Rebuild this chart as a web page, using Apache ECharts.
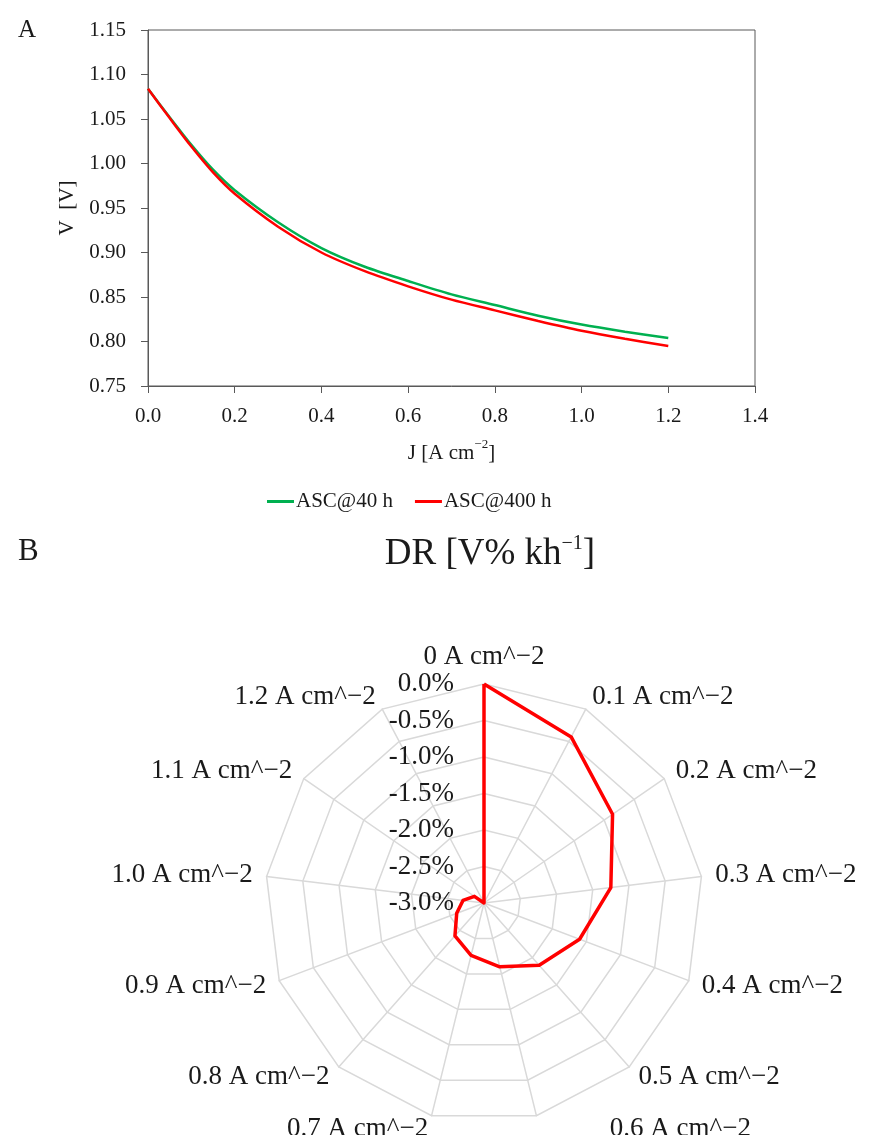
<!DOCTYPE html>
<html>
<head>
<meta charset="utf-8">
<script src="https://cdn.jsdelivr.net/npm/echarts@6/dist/echarts.min.js"></script>
<style>
html,body{margin:0;padding:0;background:#fff;}
#c{width:870px;height:1135px;}
</style>
</head>
<body>
<div id="c"></div>
<script>
// ---- Panel A data ----
const jValues = [0, 0.05, 0.1, 0.15, 0.2, 0.3, 0.4, 0.5, 0.6, 0.7, 0.8, 0.9, 1.0, 1.1, 1.2];
const vAsc40  = [1.084, 1.052, 1.021, 0.993, 0.970, 0.934, 0.905, 0.884, 0.868, 0.853, 0.841, 0.829, 0.819, 0.811, 0.804];
const vAsc400 = [1.084, 1.051, 1.019, 0.990, 0.966, 0.929, 0.900, 0.879, 0.862, 0.847, 0.835, 0.823, 0.812, 0.803, 0.795];
const seriesNames = ['ASC@40 h', 'ASC@400 h'];

// ---- Panel B data ----
const radarCategories = ['0 A cm^−2','0.1 A cm^−2','0.2 A cm^−2','0.3 A cm^−2','0.4 A cm^−2','0.5 A cm^−2','0.6 A cm^−2',
  '0.7 A cm^−2','0.8 A cm^−2','0.9 A cm^−2','1.0 A cm^−2','1.1 A cm^−2','1.2 A cm^−2'];
const drValues = [0.0, -0.43, -0.86, -1.25, -1.60, -1.86, -2.10, -2.26, -2.40, -2.60, -2.71, -2.84, -3.0];

const FONT = 'Liberation Serif';
const TXT = '#1a1a1a';
const GREEN = '#00b050';
const RED = '#ff0000';

const chart = echarts.init(document.getElementById('c'), null, {renderer: 'canvas'});

const pairs = (xs, ys) => xs.map((x, i) => [x, ys[i]]);

// ECharts radar lays indicators out counter-clockwise; reorder so they run clockwise
const order = [0].concat(radarCategories.map((_, i) => i).slice(1).reverse());
const indicators = order.map((idx) => {
  const ind = {name: radarCategories[idx], min: -3, max: 0};
  if (idx === 0) ind.axisLabel = {show: true};
  return ind;
});
const drOrdered = order.map(idx => drValues[idx]);

const option = {
  animation: false,
  textStyle: {fontFamily: FONT, color: TXT},
  title: [
    {text: 'A', left: 13, top: 13, textStyle: {fontFamily: FONT, fontSize: 25, fontWeight: 'normal', color: TXT}},
    {text: 'B', left: 13, top: 531, textStyle: {fontFamily: FONT, fontSize: 31, fontWeight: 'normal', color: TXT}},
    {
      text: '{a|DR [V% kh}{s|−1}{a|]}',
      left: 485, textAlign: 'center', top: 526,
      textStyle: {
        fontWeight: 'normal',
        rich: {
          a: {fontFamily: FONT, fontSize: 37, fontWeight: 'normal', color: TXT, lineHeight: 42, verticalAlign: 'bottom'},
          s: {fontFamily: FONT, fontSize: 20, fontWeight: 'normal', color: TXT, lineHeight: 42, verticalAlign: 'top', padding: [3,0,0,0]}
        }
      }
    }
  ],
  legend: {
    top: 486, left: 262,
    icon: 'rect', itemWidth: 27, itemHeight: 3, itemGap: 22,
    textStyle: {fontFamily: FONT, fontSize: 21, color: TXT, padding: [0,0,0,-3]},
    data: seriesNames
  },
  grid: {
    left: 148, top: 30, width: 607, height: 356,
    show: true, borderColor: '#595959', borderWidth: 1, backgroundColor: 'transparent'
  },
  xAxis: {
    type: 'value', min: 0, max: 1.4, interval: 0.2,
    name: '{a|J [A cm}{s|−2}{a|]}',
    nameLocation: 'middle', nameGap: 52,
    nameTextStyle: {
      rich: {
        a: {fontFamily: FONT, fontSize: 21, color: TXT, lineHeight: 26, verticalAlign: 'bottom'},
        s: {fontFamily: FONT, fontSize: 13, color: TXT, lineHeight: 26, verticalAlign: 'top'}
      }
    },
    axisLine: {show: true, lineStyle: {color: '#595959', width: 1}},
    axisTick: {show: true, length: 7, lineStyle: {color: '#595959'}},
    splitLine: {show: false},
    axisLabel: {fontFamily: FONT, fontSize: 21, color: TXT, margin: 20, formatter: v => v.toFixed(1)}
  },
  yAxis: {
    type: 'value', min: 0.75, max: 1.15, interval: 0.05,
    name: 'V  [V]', nameLocation: 'middle', nameGap: 70, nameRotate: 90,
    nameTextStyle: {fontFamily: FONT, fontSize: 21, color: TXT},
    axisLine: {show: true, lineStyle: {color: '#595959', width: 1}},
    axisTick: {show: true, length: 7, lineStyle: {color: '#595959'}},
    splitLine: {show: false},
    axisLabel: {fontFamily: FONT, fontSize: 21, color: TXT, margin: 22, formatter: v => v.toFixed(2)}
  },
  radar: {
    center: [484, 903],
    radius: 219,
    startAngle: 90,
    splitNumber: 6,
    shape: 'polygon',
    indicator: indicators,
    axisName: {
      fontFamily: FONT, fontSize: 27, color: TXT,
      formatter: (name) => name.indexOf('0.6 ') === 0 ? '{sh|' + name + '}' : name,
      rich: {sh: {fontFamily: FONT, fontSize: 27, color: TXT, padding: [0, 0, 0, 70]}}
    },
    nameGap: 14,
    splitLine: {lineStyle: {color: '#d9d9d9', width: 1.5}},
    splitArea: {show: false},
    axisLine: {lineStyle: {color: '#d9d9d9', width: 1.5}},
    axisTick: {show: false},
    axisLabel: {show: false, fontFamily: FONT, fontSize: 27, color: TXT, margin: 30,
      formatter: v => Number(v).toFixed(1) + '%'}
  },
  series: [
    {
      name: seriesNames[0], type: 'line', data: pairs(jValues, vAsc40),
      smooth: 0.3, showSymbol: false, lineStyle: {color: GREEN, width: 2.5}, itemStyle: {color: GREEN}
    },
    {
      name: seriesNames[1], type: 'line', data: pairs(jValues, vAsc400),
      smooth: 0.3, showSymbol: false, lineStyle: {color: RED, width: 2.5}, itemStyle: {color: RED}
    },
    {
      name: 'DR', type: 'radar',
      symbol: 'none',
      lineStyle: {color: RED, width: 3.5},
      itemStyle: {color: RED},
      data: [{value: drOrdered, name: 'DR'}]
    }
  ]
};
chart.setOption(option);
</script>
</body>
</html>
